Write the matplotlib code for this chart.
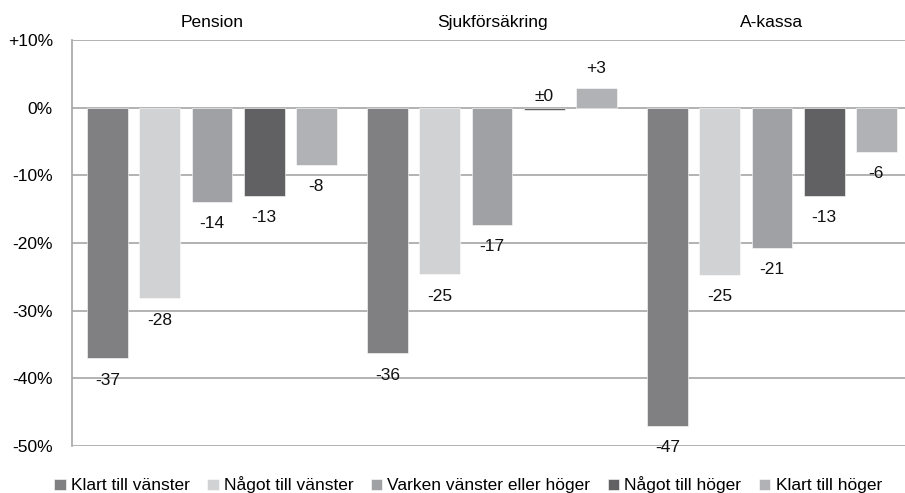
import matplotlib
matplotlib.use("Agg")
import matplotlib.pyplot as plt
import numpy as np

plt.rcParams['font.family'] = ['Liberation Sans', 'DejaVu Sans']

groups = ["Pension", "Sjukförsäkring", "A-kassa"]
series = ["Klart till vänster", "Något till vänster", "Varken vänster eller höger",
          "Något till höger", "Klart till höger"]
values = {
    "Klart till vänster":          [-37.0, -36.3, -47.0],
    "Något till vänster":          [-28.2, -24.6, -24.7],
    "Varken vänster eller höger":  [-13.9, -17.3, -20.7],
    "Något till höger":            [-13.0, -0.4, -13.0],
    "Klart till höger":            [-8.4, 2.9, -6.5],
}
labels = {
    "Klart till vänster":          ["-37", "-36", "-47"],
    "Något till vänster":          ["-28", "-25", "-25"],
    "Varken vänster eller höger":  ["-14", "-17", "-21"],
    "Något till höger":            ["-13", "±0", "-13"],
    "Klart till höger":            ["-8", "+3", "-6"],
}
colors = ["#808083", "#d1d2d4", "#a0a1a4", "#616163", "#b1b2b5"]
yticks = [10, 0, -10, -20, -30, -40, -50]
yticklabels = ["+10%", "0%", "-10%", "-20%", "-30%", "-40%", "-50%"]

fig = plt.figure(figsize=(9.05, 4.93), dpi=100)
ax = fig.add_axes([72/905, 1-446/493, (912-72)/905, (446-40)/493])

x = np.arange(len(groups))
pitch = 0.186
width = 0.146
fs = 12.5
handles = []
for j, s in enumerate(series):
    xs = x + (j - 2) * pitch
    b = ax.bar(xs, values[s], width, color=colors[j], edgecolor='white',
               linewidth=0.4, label=s, zorder=3)
    handles.append(b)
    for xi, v, lab in zip(xs, values[s], labels[s]):
        if lab.startswith('-'):
            off = -22 * 0.72
            yy = v
        else:
            yy = max(v, 0)
            off = (20 if v > 0 else 11) * 0.72
        ax.annotate(lab, (xi, yy), xytext=(0, off), textcoords='offset points',
                    ha='center', va='center', fontsize=fs, color='#111111', zorder=4)

ax.set_xlim(-0.5, 2.5)
ax.set_ylim(-50, 10)
ax.set_yticks(yticks)
ax.set_yticklabels(yticklabels, fontsize=fs)
ax.yaxis.grid(True, color='#a6a6a6', linewidth=1.2, zorder=0)
ax.tick_params(axis='y', length=0, pad=19 * 0.72)
ax.xaxis.tick_top()
ax.set_xticks(x)
ax.set_xticklabels(groups, fontsize=fs)
ax.tick_params(axis='x', length=0, pad=7)
for sp in ['top', 'right', 'bottom']:
    ax.spines[sp].set_visible(False)
ax.spines['left'].set_color('#a6a6a6')
ax.spines['left'].set_linewidth(1.2)

fig.legend(handles=handles, labels=series, loc='center',
           bbox_to_anchor=(468/905, 1-485/493), ncol=5, frameon=False,
           fontsize=fs, handlelength=0.66, handleheight=0.66,
           handletextpad=0.3, columnspacing=1.0, borderaxespad=0, borderpad=0)

fig.savefig("out.png", dpi=100)
